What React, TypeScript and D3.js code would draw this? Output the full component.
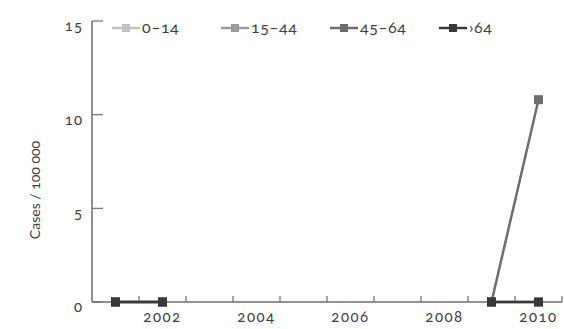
import React from "react";
import * as d3 from "d3";

const years = [2001, 2002, 2003, 2004, 2005, 2006, 2007, 2008, 2009, 2010];
const seriesNames = ["0–14", "15–44", "45–64", ">64"];
const legendLabels = ["0–14", "15–44", "45–64", "›64"];
const seriesColors = ["#c2c3c5", "#9a9b9f", "#6c6d72", "#38393d"];
const v014: (number | null)[] = [0, 0, null, null, null, null, null, null, 0, 0];
const v1544: (number | null)[] = [0, 0, null, null, null, null, null, null, 0, 0];
const v4564: (number | null)[] = [0, 0, null, null, null, null, null, null, 0, 10.8];
const vOver64: (number | null)[] = [0, 0, null, null, null, null, null, null, 0, 0];
const seriesValues = [v014, v1544, v4564, vOver64];
const yTicks = [0, 5, 10, 15];
const xLabelYears = [2002, 2004, 2006, 2008, 2010];

const W = 564;
const H = 329;
const left = 92;
const right = 562;
const top = 21;
const bottom = 302;
const font = "Lato, 'Open Sans', sans-serif";

export default function App() {
  const x = d3.scaleBand<number>().domain(years).range([left, right]).padding(0);
  const y = d3.scaleLinear().domain([0, 15]).range([bottom, top]);
  const cx = (yr: number) => (x(yr) as number) + x.bandwidth() / 2;
  const line = d3
    .line<{ yr: number; v: number | null }>()
    .defined((d) => d.v !== null)
    .x((d) => cx(d.yr))
    .y((d) => y(d.v as number));
  const boundaries = years.map((yr) => (x(yr) as number) + x.bandwidth());
  const axisColor = "#6d6e72";
  const textColor = "#3d3d40";
  const onum = { fontVariantNumeric: "oldstyle-nums" } as React.CSSProperties;

  return (
    <svg width={W} height={H} style={{ position: "absolute", left: 0, top: 0 }}>
      <rect width={W} height={H} fill="#fff" />
      {/* y axis */}
      <line x1={left} x2={left} y1={top} y2={bottom} stroke={axisColor} strokeWidth={1.5} />
      {yTicks.map((t) => (
        <g key={t}>
          <line x1={left} x2={left + 11} y1={y(t)} y2={y(t)} stroke={axisColor} strokeWidth={1.2} />
          <text
            x={left - 9}
            y={y(t) + 10}
            textAnchor="end"
            fontFamily={font}
            fontSize={15}
            letterSpacing={1}
            fill={textColor}
            style={onum}
          >
            {t}
          </text>
        </g>
      ))}
      <text
        transform={`translate(40,190) rotate(-90)`}
        textAnchor="middle"
        fontFamily={font}
        fontSize={14}
        fill={textColor}
        style={onum}
      >
        Cases / 100 000
      </text>
      {/* x axis */}
      <line x1={left} x2={right} y1={bottom} y2={bottom} stroke={axisColor} strokeWidth={1.5} />
      {boundaries.map((b, i) => (
        <line key={i} x1={b} x2={b} y1={bottom} y2={bottom - 6} stroke={axisColor} strokeWidth={1.2} />
      ))}
      {xLabelYears.map((yr) => (
        <text
          key={yr}
          x={cx(yr)}
          y={bottom + 20}
          textAnchor="middle"
          fontFamily={font}
          fontSize={15}
          fill={textColor}
          letterSpacing={1.5}
          style={onum}
        >
          {yr}
        </text>
      ))}
      {/* series */}
      {seriesValues.map((vals, si) => {
        const data = years.map((yr, i) => ({ yr, v: vals[i] }));
        return (
          <g key={seriesNames[si]}>
            <path d={line(data) || ""} fill="none" stroke={seriesColors[si]} strokeWidth={2.5} />
            {data
              .filter((d) => d.v !== null)
              .map((d) => (
                <rect
                  key={d.yr}
                  x={cx(d.yr) - 4.5}
                  y={y(d.v as number) - 4.5}
                  width={9}
                  height={9}
                  fill={seriesColors[si]}
                />
              ))}
          </g>
        );
      })}
      {/* legend */}
      {legendLabels.map((lab, i) => {
        const lx = 112 + i * 109;
        const ly = 28;
        return (
          <g key={lab}>
            <line x1={lx} x2={lx + 28} y1={ly} y2={ly} stroke={seriesColors[i]} strokeWidth={2.5} />
            <rect x={lx + 10} y={ly - 4} width={8} height={8} fill={seriesColors[i]} />
            <text
              x={lx + 30}
              y={ly + 5}
              fontFamily={font}
              fontSize={16}
              letterSpacing={0.5}
              fill={textColor}
              style={onum}
            >
              {lab}
            </text>
          </g>
        );
      })}
    </svg>
  );
}
